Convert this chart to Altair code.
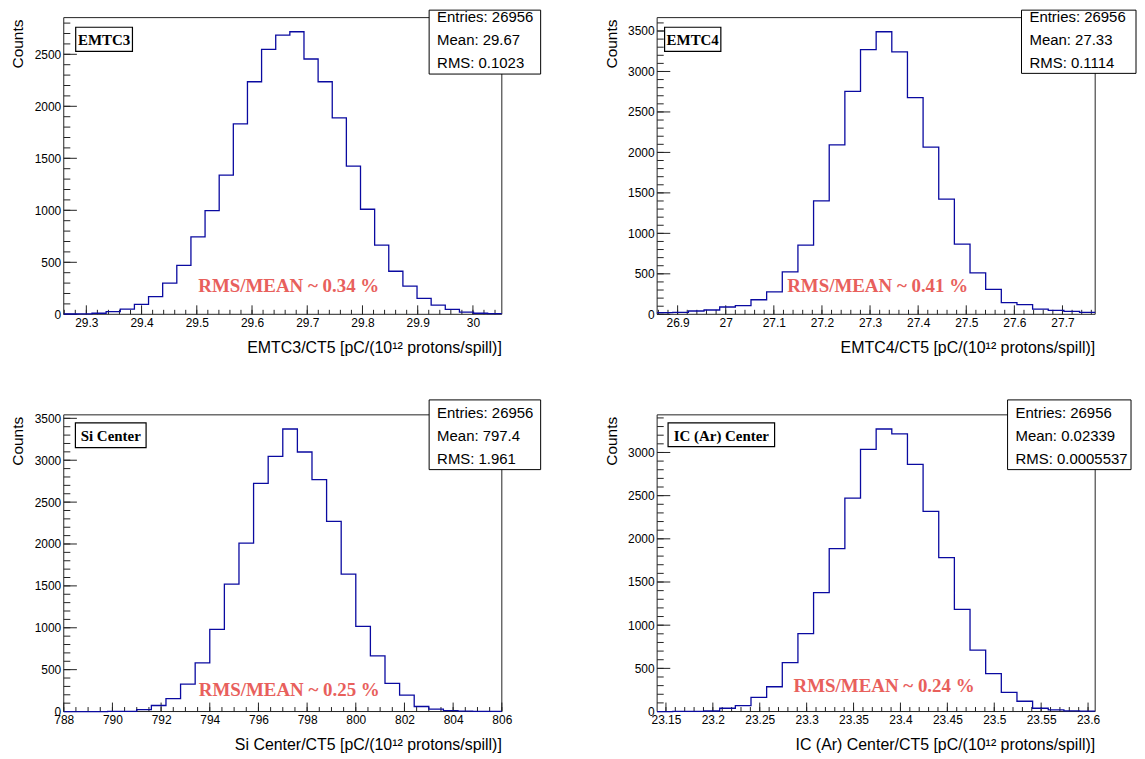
import altair as alt
import numpy as np
import pandas as pd

# ---------------- data ----------------
detectors = ["EMTC3", "EMTC4", "Si Center", "IC (Ar) Center"]
entries = ["26956", "26956", "26956", "26956"]
means = ["29.67", "27.33", "797.4", "0.02339"]
rms_values = ["0.1023", "0.1114", "1.961", "0.0005537"]
rms_over_mean = ["0.34", "0.41", "0.25", "0.24"]

counts_emtc3 = [3, 5, 10, 25, 50, 95, 170, 300, 470, 745, 997, 1338, 1831, 2236, 2548,
                2685, 2717, 2455, 2236, 1889, 1424, 1010, 666, 414, 271, 153, 89, 48, 20, 10, 6]
counts_emtc4 = [20, 25, 41, 53, 90, 106, 180, 278, 523, 854, 1402, 2093, 2755, 3270, 3491,
                3242, 2678, 2065, 1423, 867, 511, 307, 143, 119, 65, 49, 37, 25]
counts_si = [0, 0, 0, 1, 3, 24, 72, 155, 327, 581, 980, 1521, 2011, 2724, 3047,
             3373, 3098, 2768, 2270, 1641, 1016, 665, 335, 195, 60, 28, 12, 4, 2, 1]
counts_ic = [0, 1, 3, 6, 38, 69, 165, 287, 566, 903, 1378, 1887, 2472, 3035, 3272,
             3215, 2863, 2319, 1783, 1183, 712, 440, 222, 119, 38, 19, 8, 4]
all_counts = [counts_emtc3, counts_emtc4, counts_si, counts_ic]

# histogram ranges (axis limits)
x_low = [29.2591, 26.8574, 788.0, 23.1406]
x_high = [30.0523, 27.7680, 806.0, 23.6076]

x_major_ticks = [
    [29.3, 29.4, 29.5, 29.6, 29.7, 29.8, 29.9, 30.0],
    [26.9, 27.0, 27.1, 27.2, 27.3, 27.4, 27.5, 27.6, 27.7],
    [788, 790, 792, 794, 796, 798, 800, 802, 804, 806],
    [23.15, 23.2, 23.25, 23.3, 23.35, 23.4, 23.45, 23.5, 23.55, 23.6],
]
x_minor_step = [0.02, 0.02, 0.5, 0.01]
y_major_ticks = [
    [0, 500, 1000, 1500, 2000, 2500],
    [0, 500, 1000, 1500, 2000, 2500, 3000, 3500],
    [0, 500, 1000, 1500, 2000, 2500, 3000, 3500],
    [0, 500, 1000, 1500, 2000, 2500, 3000],
]
y_minor_step = [100, 100, 100, 100]

# ---------------- layout / style ----------------
W, H = 440, 298
SANS = "Liberation Sans"
SERIF = "Liberation Serif"
LINE = "#0a0aa0"
RED = "#e8605c"

label_box = [(12, 69, 9.7, 34), (7.5, 64, 9.7, 34), (11.7, 82.7, 8, 33), (11, 118, 8, 32)]
stats_box = [(367, 479, -7.5, 56.7), (366, 481, -7.5, 56), (367, 479, -15, 55), (352, 476, -15, 55)]
stats_lines_y = [(-1, 23, 46), (-1, 23, 46), (-2.3, 21, 44), (-2.3, 21, 44)]
ratio_pos = [(226, 270), (221.5, 270), (226.5, 276), (228, 272)]


def one(t):
    return pd.DataFrame({"t": [t]})


def minor_ticks(lo, hi, step):
    start = np.ceil(lo / step - 1e-9) * step
    vals = np.arange(start, hi + 1e-9, step)
    return [round(v, 6) for v in vals if lo - 1e-9 <= v <= hi + 1e-9]


def panel(i, anchor=False):
    counts = all_counts[i]
    lo, hi = x_low[i], x_high[i]
    n = len(counts)
    edges = np.linspace(lo, hi, n + 1)
    hist_df = pd.DataFrame({"x": edges, "y": list(counts) + [counts[-1]]})
    ymax = 1.05 * max(counts)

    xs = alt.Scale(domain=[lo, hi], nice=False, zero=False)
    ys = alt.Scale(domain=[0, ymax], nice=False)
    x_axis = alt.Axis(values=x_major_ticks[i], format="~g", ticks=False, tickSize=0,
                      domain=False, grid=False, labelFont=SANS, labelFontSize=12,
                      labelColor="black", labelPadding=3, labelFlush=False,
                      labelOverlap=False, title=None)
    y_axis = alt.Axis(values=y_major_ticks[i], format="d", ticks=False, tickSize=0,
                      domain=False, grid=False, labelFont=SANS, labelFontSize=12,
                      labelColor="black", labelPadding=3, labelOverlap=False, title=None)
    xe = alt.X("x:Q", scale=xs, axis=x_axis)
    ye = alt.Y("y:Q", scale=ys, axis=y_axis)

    layers = []
    # frame
    layers.append(alt.Chart(one("")).mark_rect(color="white", fillOpacity=0, stroke="#222",
                                              strokeWidth=1).encode(
        x=alt.value(0), x2=alt.value(W), y=alt.value(0), y2=alt.value(H)))
    # x ticks
    xmin_df = pd.DataFrame({"x": minor_ticks(lo, hi, x_minor_step[i])})
    xmaj_df = pd.DataFrame({"x": x_major_ticks[i]})
    layers.append(alt.Chart(xmin_df).mark_rule(color="#222", strokeWidth=1).encode(
        x=xe, y=alt.value(H), y2=alt.value(H - 4.5)))
    layers.append(alt.Chart(xmaj_df).mark_rule(color="#222", strokeWidth=1).encode(
        x=xe, y=alt.value(H), y2=alt.value(H - 9)))
    # y ticks
    ymin_df = pd.DataFrame({"y": minor_ticks(0, ymax, y_minor_step[i])})
    ymaj_df = pd.DataFrame({"y": y_major_ticks[i]})
    layers.append(alt.Chart(ymin_df).mark_rule(color="#222", strokeWidth=1).encode(
        y=ye, x=alt.value(0), x2=alt.value(6.6)))
    layers.append(alt.Chart(ymaj_df).mark_rule(color="#222", strokeWidth=1).encode(
        y=ye, x=alt.value(0), x2=alt.value(13.2)))
    # histogram
    layers.append(alt.Chart(hist_df).mark_line(interpolate="step-after", color=LINE,
                                               strokeWidth=1.3).encode(x=xe, y=ye))
    # label box
    lx1, lx2, ly1, ly2 = label_box[i]
    layers.append(alt.Chart(one("")).mark_rect(color="white", stroke="black",
                                              strokeWidth=1.2).encode(
        x=alt.value(lx1), x2=alt.value(lx2), y=alt.value(ly1), y2=alt.value(ly2)))
    layers.append(alt.Chart(one(detectors[i])).mark_text(
        font=SERIF, fontWeight="bold", fontSize=15, color="black", align="center",
        baseline="middle").encode(text="t:N", x=alt.value((lx1 + lx2) / 2),
                                  y=alt.value((ly1 + ly2) / 2 + 1)))
    # red annotation
    rx, ry = ratio_pos[i]
    layers.append(alt.Chart(one("RMS/MEAN ~ " + rms_over_mean[i] + " %")).mark_text(
        font=SERIF, fontWeight="bold", fontSize=19, color=RED, align="center",
        baseline="middle").encode(text="t:N", x=alt.value(rx), y=alt.value(ry)))
    # stats box
    sx1, sx2, sy1, sy2 = stats_box[i]
    layers.append(alt.Chart(one("")).mark_rect(color="white", stroke="black",
                                              strokeWidth=1).encode(
        x=alt.value(sx1), x2=alt.value(sx2), y=alt.value(sy1), y2=alt.value(sy2)))
    lines = ["Entries: " + entries[i], "Mean: " + means[i], "RMS: " + rms_values[i]]
    for txt, yy in zip(lines, stats_lines_y[i]):
        layers.append(alt.Chart(one(txt)).mark_text(
            font=SANS, fontSize=15, color="black", align="left", baseline="middle").encode(
            text="t:N", x=alt.value(sx1 + 8), y=alt.value(yy)))
    # axis titles
    layers.append(alt.Chart(one("Counts")).mark_text(
        font=SANS, fontSize=15.5, color="black", angle=270, align="right",
        baseline="middle").encode(text="t:N", x=alt.value(-45.5), y=alt.value(2)))
    layers.append(alt.Chart(one(detectors[i] + "/CT5 [pC/(10¹² protons/spill)]")).mark_text(
        font=SANS, fontSize=16, color="black", align="right", baseline="middle").encode(
        text="t:N", x=alt.value(W), y=alt.value(H + 34)))
    if anchor:
        layers.append(alt.Chart(one("")).mark_rule(color="white", strokeWidth=1).encode(
            x=alt.value(-55.5), y=alt.value(-7.5), y2=alt.value(-6.5)))

    return alt.layer(*layers).properties(width=W, height=H)


chart = alt.concat(
    panel(0, anchor=True), panel(1), panel(2), panel(3),
    columns=2,
    spacing={"row": 101, "column": 156},
    bounds="flush",
    padding=0,
).configure_view(strokeWidth=0)

chart.save("out.html", embed_options={"renderer": "svg", "actions": False})
